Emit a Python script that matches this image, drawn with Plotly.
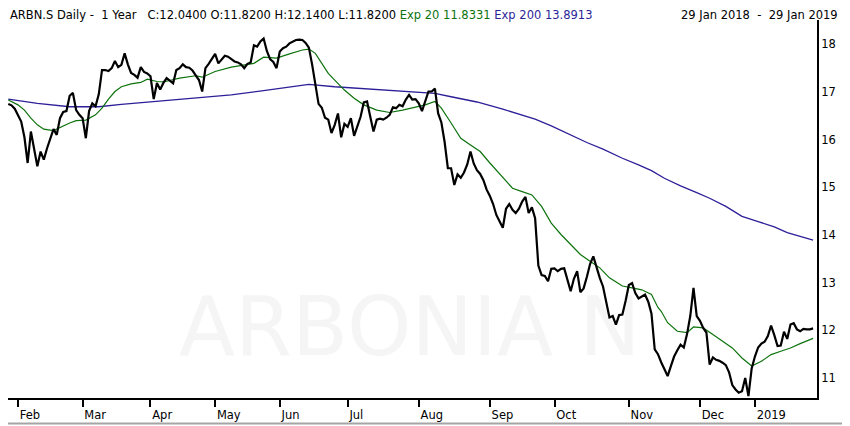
import plotly.graph_objects as go
import pandas as pd

# SIX exchange holidays inside the one-year window
holidays = ["2018-03-30", "2018-04-02", "2018-05-01", "2018-05-10", "2018-05-21",
            "2018-08-01", "2018-12-24", "2018-12-25", "2018-12-26", "2018-12-31",
            "2019-01-01", "2019-01-02"]

# trading sessions 29 Jan 2018 .. 29 Jan 2019
sessions = pd.bdate_range("2018-01-29", "2019-01-29", freq="C", holidays=holidays)

# daily close, one per session
close = [
    16.75, 16.72, 16.65, 16.52, 16.38, 16.05, 15.51, 16.17, 15.79, 15.44,
    15.75, 15.58, 15.82, 16.03, 16.22, 16.10, 16.45, 16.58, 16.60, 16.92,
    16.98, 16.62, 16.52, 16.45, 16.03, 16.60, 16.76, 16.70, 16.95, 17.46,
    17.46, 17.44, 17.50, 17.65, 17.52, 17.57, 17.81, 17.58, 17.40, 17.36,
    17.30, 17.52, 17.42, 17.39, 17.33, 16.85, 17.19, 17.05, 17.19, 17.29,
    17.23, 17.18, 17.46, 17.50, 17.58, 17.52, 17.51, 17.45, 17.35, 17.25,
    17.01, 17.50, 17.59, 17.69, 17.80, 17.60, 17.67, 17.76, 17.74, 17.68,
    17.64, 17.62, 17.58, 17.50, 17.59, 17.62, 17.98, 17.95, 18.06, 18.12,
    17.86, 17.69, 17.63, 17.50, 17.85, 17.92, 17.95, 18.02, 18.06, 18.09,
    18.10, 18.09, 18.03, 17.93, 17.58, 17.15, 16.75, 16.67, 16.46, 16.42,
    16.14, 16.31, 16.55, 16.05, 16.33, 16.27, 16.45, 16.08, 16.30, 16.48,
    16.78, 16.80, 16.48, 16.17, 16.42, 16.44, 16.42, 16.46, 16.52, 16.68,
    16.66, 16.73, 16.70, 16.84, 16.94, 16.84, 16.85, 16.76, 16.60, 16.83,
    17.01, 17.01, 17.07, 16.55, 16.36, 15.95, 15.40, 15.40, 15.05, 15.27,
    15.20, 15.31, 15.48, 15.75, 15.50, 15.36, 15.28, 15.15, 14.95, 14.82,
    14.65, 14.42, 14.30, 14.15, 14.55, 14.65, 14.53, 14.46, 14.55, 14.70,
    14.80, 14.46, 14.58, 14.35, 13.36, 13.16, 13.14, 13.03, 13.29, 13.30,
    13.24, 13.29, 13.30, 13.06, 12.82, 13.08, 13.24, 12.80, 12.88, 13.12,
    13.39, 13.55, 13.30, 13.10, 12.92, 12.58, 12.27, 12.30, 12.12, 12.32,
    12.33, 12.62, 12.95, 12.99, 12.78, 12.67, 12.71, 12.75, 12.60, 12.35,
    11.60, 11.50, 11.33, 11.20, 11.04, 11.25, 11.45, 11.58, 11.70, 11.64,
    11.92, 12.30, 12.89, 12.30, 12.20, 12.05, 11.95, 11.28, 11.43, 11.38,
    11.36, 11.32, 11.27, 11.12, 10.85, 10.76, 10.69, 10.72, 11.00, 10.62,
    11.20, 11.45, 11.64, 11.72, 11.76, 11.88, 12.10, 11.90, 11.67, 11.68,
    11.97, 11.82, 12.12, 12.15, 12.02, 11.98, 12.03, 12.02, 12.02, 12.04,
]

# 20-day exponential average
ema20_dates = [
    "2018-01-29", "2018-02-01", "2018-02-05", "2018-02-07", "2018-02-09", "2018-02-13",
    "2018-02-16", "2018-02-20", "2018-02-23", "2018-02-27", "2018-03-02", "2018-03-07",
    "2018-03-09", "2018-03-13", "2018-03-15", "2018-03-19", "2018-03-22", "2018-03-27",
    "2018-03-29", "2018-04-05", "2018-04-09", "2018-04-16", "2018-04-23", "2018-04-25",
    "2018-05-02", "2018-05-09", "2018-05-16", "2018-05-22", "2018-05-25", "2018-05-31",
    "2018-06-06", "2018-06-12", "2018-06-14", "2018-06-18", "2018-06-20", "2018-06-22",
    "2018-06-26", "2018-06-29", "2018-07-04", "2018-07-09", "2018-07-13", "2018-07-19",
    "2018-07-25", "2018-07-31", "2018-08-06", "2018-08-09", "2018-08-13", "2018-08-16",
    "2018-08-21", "2018-08-24", "2018-08-29", "2018-09-03", "2018-09-07", "2018-09-12",
    "2018-09-17", "2018-09-20", "2018-09-25", "2018-09-28", "2018-10-03", "2018-10-08",
    "2018-10-11", "2018-10-16", "2018-10-19", "2018-10-24", "2018-10-30", "2018-11-02",
    "2018-11-07", "2018-11-12", "2018-11-14", "2018-11-15", "2018-11-19", "2018-11-22",
    "2018-11-27", "2018-11-29", "2018-12-04", "2018-12-07", "2018-12-12", "2018-12-17",
    "2018-12-20", "2018-12-28", "2019-01-07", "2019-01-10", "2019-01-15", "2019-01-18",
    "2019-01-23", "2019-01-29",
]
ema20 = [
    16.83, 16.73, 16.62, 16.45, 16.31, 16.22, 16.19, 16.26, 16.35, 16.40,
    16.41, 16.52, 16.66, 16.85, 17.01, 17.11, 17.17, 17.20, 17.27, 17.22,
    17.21, 17.29, 17.34, 17.31, 17.43, 17.52, 17.57, 17.60, 17.73, 17.71,
    17.80, 17.88, 17.90, 17.81, 17.60, 17.39, 17.25, 17.04, 16.87, 16.73,
    16.62, 16.57, 16.62, 16.68, 16.73, 16.80, 16.66, 16.35, 16.03, 15.89,
    15.75, 15.51, 15.20, 14.98, 14.91, 14.84, 14.60, 14.25, 14.01, 13.80,
    13.59, 13.45, 13.31, 13.10, 12.93, 12.89, 12.85, 12.75, 12.48, 12.40,
    12.16, 11.98, 11.95, 12.07, 12.05, 11.91, 11.77, 11.63, 11.42, 11.25,
    11.35, 11.49, 11.56, 11.63, 11.72, 11.83,
]

# 200-day exponential average
ema200_dates = [
    "2018-01-29", "2018-02-09", "2018-02-23", "2018-03-08", "2018-03-19", "2018-04-04",
    "2018-04-12", "2018-04-23", "2018-05-09", "2018-05-25", "2018-06-08", "2018-06-14",
    "2018-06-26", "2018-07-11", "2018-07-25", "2018-08-09", "2018-08-16", "2018-08-28",
    "2018-09-07", "2018-09-17", "2018-09-21", "2018-09-28", "2018-10-08", "2018-10-15",
    "2018-10-22", "2018-10-30", "2018-11-06", "2018-11-12", "2018-11-16", "2018-11-23",
    "2018-11-30", "2018-12-06", "2018-12-13", "2018-12-20", "2019-01-04", "2019-01-11",
    "2019-01-17", "2019-01-23", "2019-01-29",
]
ema200 = [
    16.85, 16.76, 16.69, 16.69, 16.74, 16.80, 16.83, 16.87, 16.94, 17.03,
    17.13, 17.16, 17.11, 17.06, 17.01, 16.97, 16.90, 16.79, 16.64, 16.52,
    16.43, 16.29, 16.10, 15.94, 15.80, 15.61, 15.47, 15.35, 15.19, 15.03,
    14.89, 14.77, 14.60, 14.39, 14.28, 14.17, 14.05, 13.97, 13.89,
]

month_labels = ["Feb", "Mar", "Apr", "May", "Jun", "Jul", "Aug", "Sep", "Oct", "Nov", "Dec", "2019"]
price_ticks = [11, 12, 13, 14, 15, 16, 17, 18]

symbol = "ARBN.S"
last_c, last_o, last_h, last_l = 12.04, 11.82, 12.14, 11.82
ema20_last, ema200_last = 11.8331, 13.8913

GREEN = "#0d730d"
BLUE = "#2d1f98"
FONT = "DejaVu Sans"

# first session of every month after the start
s = pd.Series(sessions, index=sessions)
month_starts = s.groupby([sessions.year, sessions.month]).first().tolist()[1:]

fig = go.Figure()
fig.add_trace(go.Scatter(x=ema200_dates, y=ema200, mode="lines",
                         line=dict(color=BLUE, width=1.3), name="Exp 200"))
fig.add_trace(go.Scatter(x=ema20_dates, y=ema20, mode="lines",
                         line=dict(color=GREEN, width=1.2), name="Exp 20"))
fig.add_trace(go.Scatter(x=sessions, y=close, mode="lines",
                         line=dict(color="black", width=2.2), name=symbol))

nb = "\u00a0"
header = (f"{symbol} Daily -{nb}{nb}1 Year{nb}{nb}{nb}"
          f"C:{last_c:.4f} O:{last_o:.4f} H:{last_h:.4f} L:{last_l:.4f} "
          f"<span style='color:{GREEN}'>Exp 20 {ema20_last:.4f}</span> "
          f"<span style='color:{BLUE}'>Exp 200 {ema200_last:.4f}</span>")
period = f"29 Jan 2018{nb}{nb}-{nb}{nb}29 Jan 2019"

# the page puts the figure 8px in from the top-left corner, so it is 8px smaller
fig.update_layout(
    width=842, height=418, autosize=False,
    margin=dict(l=0, r=33, t=12, b=28),
    paper_bgcolor="white", plot_bgcolor="white",
    showlegend=False,
    font=dict(family=FONT, size=11.5, color="black"),
    xaxis=dict(
        type="date",
        range=["2018-01-28 22:00", "2019-01-30 05:00"],
        rangebreaks=[dict(bounds=["sat", "mon"]), dict(values=holidays)],
        tickvals=month_starts, ticktext=month_labels,
        ticks="outside", ticklen=7, tickwidth=1.5, tickcolor="black",
        ticklabelposition="outside right", ticklabelstandoff=5,
        showline=True, linewidth=2, linecolor="black",
        showgrid=False, zeroline=False,
        tickfont=dict(family=FONT, size=11.5, color="black"),
    ),
    yaxis=dict(
        side="right", range=[10.58, 18.51],
        tickvals=price_ticks, ticks="",
        showline=True, linewidth=2, linecolor="black",
        showgrid=False, zeroline=False,
        tickfont=dict(family=FONT, size=11.5, color="black"),
    ),
    annotations=[
        dict(text=header, xref="paper", yref="paper", x=0, y=1.0135,
             xanchor="left", yanchor="middle", showarrow=False,
             font=dict(family=FONT, size=11.5, color="black")),
        dict(text=period, xref="paper", yref="paper", x=1.0284, y=1.0135,
             xanchor="right", yanchor="middle", showarrow=False,
             font=dict(family=FONT, size=11.5, color="black")),
    ],
    shapes=[
        # faint watermark behind the lines
        dict(type="rect", xref="paper", yref="paper",
             x0=0.2077, x1=0.95, y0=0.125, y1=0.283,
             line=dict(width=0), fillcolor="rgba(0,0,0,0)", layer="below",
             label=dict(text="ARBONIA N", textposition="middle left", padding=0,
                        font=dict(family=FONT, size=82, color="#f5f5f5"))),
        # grey frame on the right and bottom edges
        dict(type="line", xref="paper", yref="paper",
             x0=1.0371, x1=1.0371, y0=-0.08, y1=1.04,
             line=dict(color="#a5a5a5", width=2), layer="above"),
        dict(type="line", xref="paper", yref="paper",
             x0=-0.01, x1=1.0371, y0=-0.0675, y1=-0.0675,
             line=dict(color="#a5a5a5", width=2), layer="above"),
    ],
)

fig.write_html("out.html")
